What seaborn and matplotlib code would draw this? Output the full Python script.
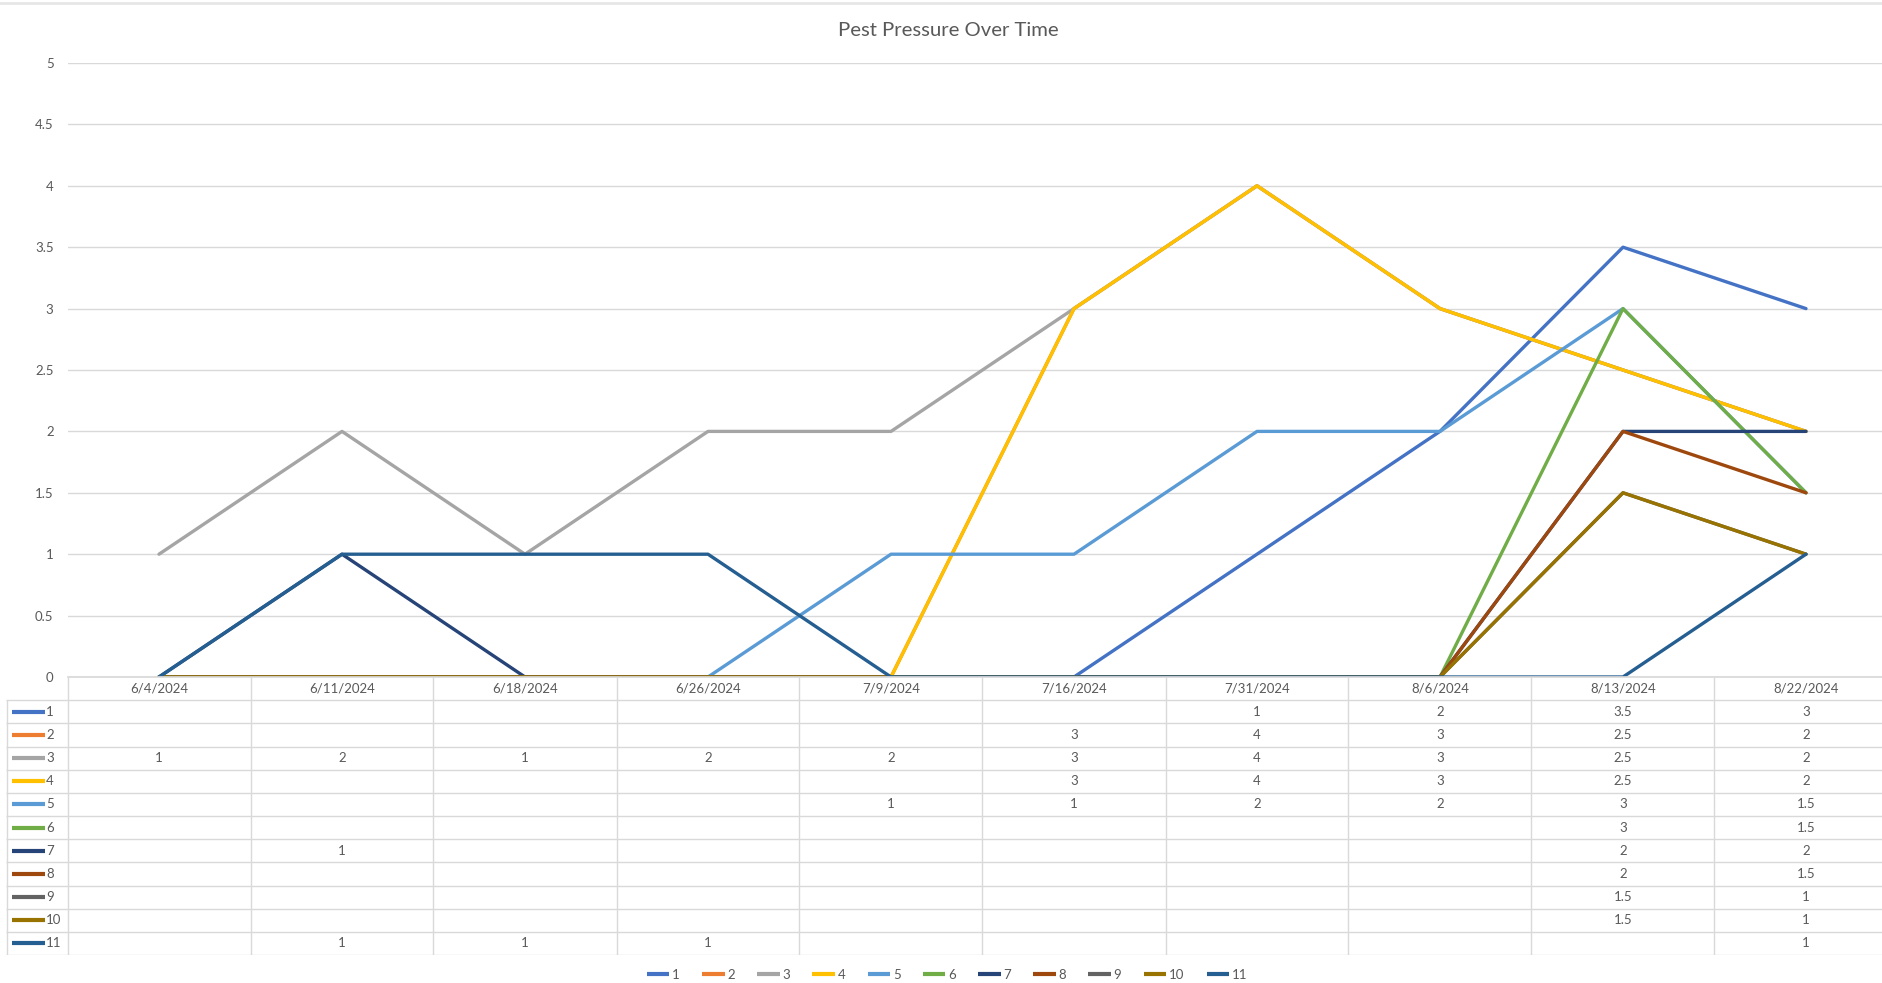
import matplotlib
matplotlib.use("Agg")
import matplotlib.pyplot as plt
from matplotlib.lines import Line2D
import numpy as np
import pandas as pd
import seaborn as sns

# data (blank cells = None, plotted as 0 like Excel does)
dates = ["6/4/2024", "6/11/2024", "6/18/2024", "6/26/2024", "7/9/2024",
         "7/16/2024", "7/31/2024", "8/6/2024", "8/13/2024", "8/22/2024"]
names = ["1", "2", "3", "4", "5", "6", "7", "8", "9", "10", "11"]
s1 = [None, None, None, None, None, None, 1, 2, 3.5, 3]
s2 = [None, None, None, None, None, 3, 4, 3, 2.5, 2]
s3 = [1, 2, 1, 2, 2, 3, 4, 3, 2.5, 2]
s4 = [None, None, None, None, None, 3, 4, 3, 2.5, 2]
s5 = [None, None, None, None, 1, 1, 2, 2, 3, 1.5]
s6 = [None, None, None, None, None, None, None, None, 3, 1.5]
s7 = [None, 1, None, None, None, None, None, None, 2, 2]
s8 = [None, None, None, None, None, None, None, None, 2, 1.5]
s9 = [None, None, None, None, None, None, None, None, 1.5, 1]
s10 = [None, None, None, None, None, None, None, None, 1.5, 1]
s11 = [None, 1, 1, 1, None, None, None, None, None, 1]
series = [s1, s2, s3, s4, s5, s6, s7, s8, s9, s10, s11]
colors = ["#4472C4", "#ED7D31", "#A5A5A5", "#FFC000", "#5B9BD5", "#70AD47",
          "#264478", "#9E480E", "#636363", "#997300", "#255E91"]

sns.set_theme(style="white")
plt.rcParams['font.family'] = ['Lato', 'DejaVu Sans']
txt = "#595959"
grid = "#D9D9D9"

rows = []
for name, vals in zip(names, series):
    for i, v in enumerate(vals):
        rows.append({"series": name, "idx": i, "value": 0 if v is None else v})
df = pd.DataFrame(rows)

W, H = 1883, 983
fig = plt.figure(figsize=(W / 100, H / 100), dpi=100)
left_px, right_px = 67.5, 1897.5
y0_px, y5_px = 677, 63
ax = fig.add_axes([left_px / W, (H - y0_px) / H, (right_px - left_px) / W, (y0_px - y5_px) / H])
tab = fig.add_axes([6 / W, (H - 955) / H, (right_px - 6) / W, (955 - y0_px) / H])

sns.lineplot(data=df, x="idx", y="value", hue="series", hue_order=names,
             palette=colors, linewidth=2.4, sort=False, errorbar=None,
             legend=False, ax=ax)
ax.set_xlim(-0.5, 9.5)
ax.set_ylim(0, 5)
yt = np.arange(0, 5.01, 0.5)
ax.set_yticks(yt)
ax.set_yticklabels([f"{v:g}" for v in yt])
ax.set_xticks([])
ax.set_xlabel("")
ax.set_ylabel("")
ax.grid(axis="y", color=grid, lw=1)
ax.set_axisbelow(True)
for sp in ["top", "right", "left"]:
    ax.spines[sp].set_visible(False)
ax.spines["bottom"].set_color(grid)
ax.tick_params(axis="y", length=0, pad=10, labelsize=9.5, labelcolor=txt)
ax.patch.set_alpha(0)

# data table under the plot
col_w = (right_px - left_px) / 10
xl = -0.5 - (left_px - 6) / col_w
tab.set_xlim(xl, 9.5)
tab.set_ylim(12, 0)
tab.axis("off")
tab.hlines(np.arange(1, 13), xl, 9.5, color=grid, lw=1)
tab.vlines(np.arange(-0.5, 9.0, 1.0), 0, 12, color=grid, lw=1)
tab.vlines([xl + 0.003], 1, 12, color=grid, lw=1)
for i, d in enumerate(dates):
    tab.text(i, 0.5, d, ha="center", va="center", fontsize=9.5, color=txt)
for r, (name, vals, c) in enumerate(zip(names, series, colors)):
    yy = r + 1.5
    tab.plot([xl + 0.035, xl + 0.215], [yy, yy], color=c, lw=3, solid_capstyle="butt")
    tab.text(xl + 0.22, yy, name, ha="left", va="center", fontsize=9.5, color=txt)
    for i, v in enumerate(vals):
        if v is not None:
            tab.text(i, yy, f"{v:g}", ha="center", va="center", fontsize=9.5, color=txt)

fig.text(948 / W, 1 - 31 / H, "Pest Pressure Over Time", ha="center", va="center",
         fontsize=14.6, color=txt)

handles = [Line2D([0], [0], color=c, lw=3, solid_capstyle="butt") for c in colors]
fig.legend(handles, names, loc="center", bbox_to_anchor=(947 / W, 1 - 975 / H),
           ncol=11, frameon=False, fontsize=9.5, labelcolor=txt,
           handlelength=1.7, handletextpad=0.2, columnspacing=1.7)

fig.add_artist(Line2D([0, 1], [1 - 3 / H, 1 - 3 / H], color="#E6E6E6", lw=2,
                      transform=fig.transFigure))

fig.savefig("out.png", dpi=100, facecolor="white")
